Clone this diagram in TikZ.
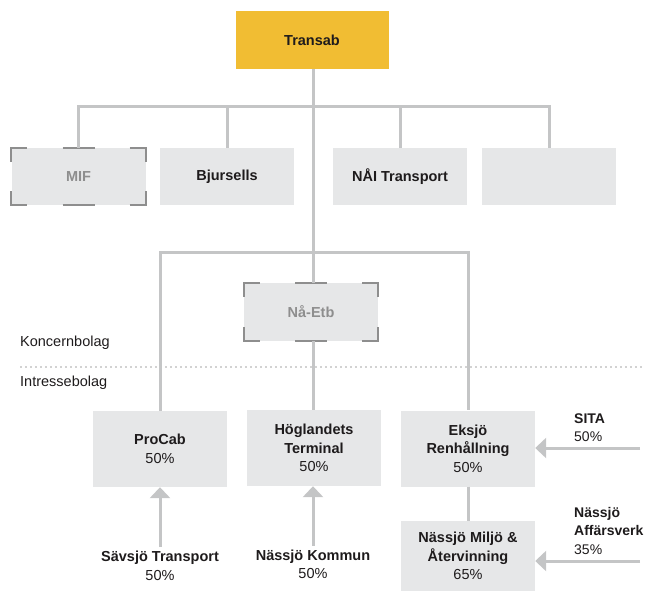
\documentclass[tikz,border=0pt]{standalone}
\usepackage{fontspec}
\setmainfont{Liberation Sans}
\usetikzlibrary{arrows.meta,calc}

\definecolor{goldbox}{HTML}{F1BD33}
\definecolor{greybox}{HTML}{E6E7E8}
\definecolor{linkgrey}{HTML}{C4C5C6}
\definecolor{markgrey}{HTML}{8E8E8E}
\definecolor{inkdark}{HTML}{1E1B1C}

% corner marks for the dormant companies
\newcommand{\markcorners}[1]{%
  \draw[markline] ($(#1.north west)+(0,14)$) -- (#1.north west) -- ++(16,0);
  \draw[markline] ($(#1.north)+(-16,0)$) -- ++(32,0);
  \draw[markline] ($(#1.north east)+(-16,0)$) -- (#1.north east) -- ++(0,14);
  \draw[markline] ($(#1.south west)+(0,-14)$) -- (#1.south west) -- ++(16,0);
  \draw[markline] ($(#1.south)+(-16,0)$) -- ++(32,0);
  \draw[markline] ($(#1.south east)+(-16,0)$) -- (#1.south east) -- ++(0,-14);
}

\begin{document}
\begin{tikzpicture}[x=1pt, y=-1pt,
    every node/.style={font=\fontsize{14.5}{18.5}\selectfont, text=inkdark, inner sep=0pt, align=center},
    company/.style={fill=greybox, minimum width=134pt, minimum height=57pt},
    sleeping/.style={company, text=markgrey},
    share/.style={company, minimum height=76pt},
    markline/.style={draw=markgrey, line width=2pt},
    link/.style={draw=linkgrey, line width=3pt},
    feed/.style={draw=linkgrey, line width=3pt, -{Triangle[width=20pt,length=11pt]}},
    owner/.style={align=left, anchor=west, font=\fontsize{14}{18.5}\selectfont}]
  \useasboundingbox (0,0) rectangle (645,601);

  % Parent
  \node[fill=goldbox, minimum width=153pt, minimum height=58pt] (transab) at (312,40) {\textbf{Transab}};

  % Subsidiaries
  \node[sleeping] (mif) at (78.5,176.5) {\textbf{MIF}};
  \node[company] (bjursells) at (227,176.5) {\textbf{Bjursells}};
  \node[company] (nai) at (400,176.5) {\textbf{NÅI Transport}};
  \node[company] (blank) at (549,176.5) {};
  \node[sleeping, minimum height=58pt] (naetb) at (311,312) {\textbf{Nå-Etb}};
  \markcorners{mif}
  \markcorners{naetb}

  % Associated companies
  \node[share] (procab) at (160,449) {\textbf{ProCab}\\50\%};
  \node[share] (hogland) at (314,448) {\textbf{Höglandets}\\\textbf{Terminal}\\50\%};
  \node[share] (eksjo) at (468,448.5) {\textbf{Eksjö}\\\textbf{Renhållning}\\50\%};
  \node[company, minimum height=70pt] (miljo) at (468,556) {\textbf{Nässjö Miljö \&}\\\textbf{Återvinning}\\65\%};

  % Group border
  \draw[markgrey!80, line width=1.6pt, line cap=round, dash pattern=on 0pt off 5pt] (21,367) -- (645,367);
  \node[anchor=west] (koncern) at (20,343) {Koncernbolag};
  \node[anchor=west] (intresse) at (20,383) {Intressebolag};

  % Tree
  \coordinate (bus) at (313,107);
  \coordinate (bus2) at (313,253);
  \draw[link] (transab.south -| bus) -- (naetb.north -| bus);
  \draw[link] (naetb.south -| bus) -- (hogland.north -| bus);
  \draw[link] (mif.north) |- (bus) -| (blank.north);
  \draw[link] (bjursells.north) -- (bjursells.north |- bus);
  \draw[link] (nai.north) -- (nai.north |- bus);
  \draw[link] (procab.north) |- (bus2) -| (eksjo.north);
  \draw[link] (eksjo.south) -- (miljo.north);

  % Other owners
  \node (savsjo) at (160,566) {\textbf{Sävsjö Transport}\\50\%};
  \node (kommun) at (313,564.5) {\textbf{Nässjö Kommun}\\50\%};
  \node[owner] (sita) at (574,427.5) {\textbf{SITA}\\50\%};
  \node[owner] (affars) at (574,530.5) {\textbf{Nässjö}\\\textbf{Affärsverk}\\35\%};
  \coordinate (sitain) at (640,448);
  \coordinate (affin) at (640,561);
  \draw[feed, shorten <=4pt] (savsjo.north) -- (procab.south);
  \draw[feed, shorten <=4pt] (kommun.north) -- (kommun.north |- hogland.south);
  \draw[feed] (sitain) -- (eksjo.east |- sitain);
  \draw[feed] (affin) -- (miljo.east |- affin);
\end{tikzpicture}
\end{document}
